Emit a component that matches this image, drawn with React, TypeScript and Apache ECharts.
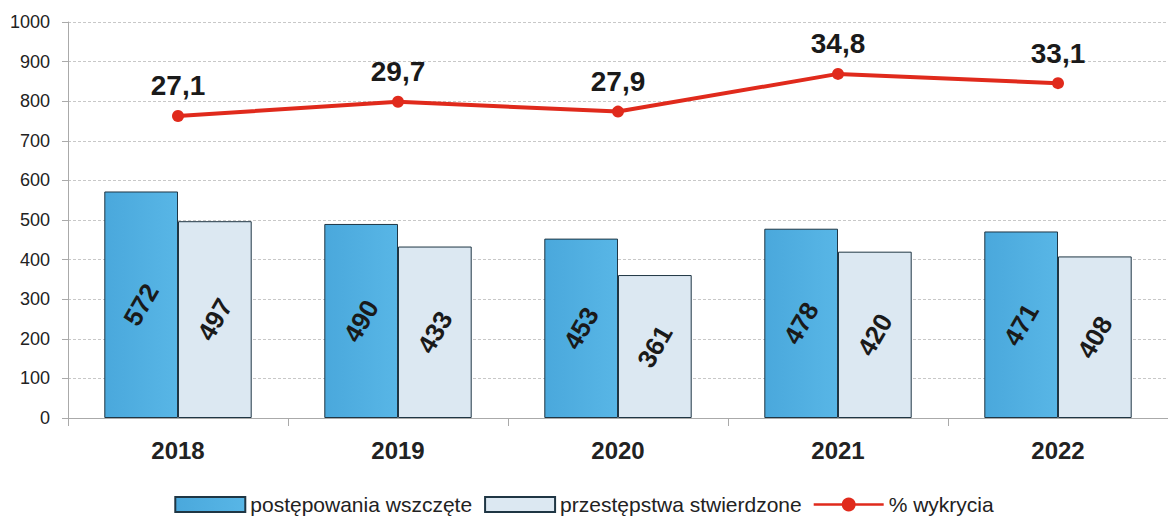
import React, { useEffect, useRef } from "react";
import * as echarts from "echarts";

const years = ["2018", "2019", "2020", "2021", "2022"];
const wszczete = [572, 490, 453, 478, 471];
const stwierdzone = [497, 433, 361, 420, 408];
const wykrycie = [27.1, 29.7, 27.9, 34.8, 33.1];
const yTicks = [0, 100, 200, 300, 400, 500, 600, 700, 800, 900, 1000];

const fmt = (v: number) => String(v).replace(".", ",");

export default function App() {
  const ref = useRef<HTMLDivElement>(null);
  useEffect(() => {
    const chart = echarts.init(ref.current!, null, { renderer: "svg" });
    const barLabel = {
      show: true,
      position: "inside",
      rotate: 60,
      fontSize: 26,
      fontWeight: "bold",
      color: "#1a1a1a",
      fontFamily: "Liberation Sans",
    };
    chart.setOption({
      animation: false,
      textStyle: { fontFamily: "Liberation Sans" },
      grid: { left: 68, right: 0, top: 22, bottom: 102 },
      legend: {
        bottom: 0,
        left: "center",
        itemGap: 12,
        itemWidth: 70,
        itemHeight: 15,
        textStyle: { fontSize: 21, color: "#222", fontFamily: "Liberation Sans" },
        data: [
          { name: "postępowania wszczęte", icon: "rect" },
          { name: "przestępstwa stwierdzone", icon: "rect" },
          { name: "% wykrycia", icon: "path://M0,6 L60,6 L60,8 L0,8 Z M30,1 A6,6 0 1 1 29.99,1 Z" },
        ],
      },
      xAxis: {
        type: "category",
        data: years,
        axisLine: { lineStyle: { color: "#aaa" } },
        axisTick: { show: true, length: 8, lineStyle: { color: "#aaa" } },
        axisLabel: { fontSize: 24, fontWeight: "bold", color: "#222", margin: 20 },
      },
      yAxis: [
        {
          type: "value",
          min: 0,
          max: 1000,
          interval: 100,
          axisLine: { show: true, lineStyle: { color: "#aaa" } },
          axisTick: { show: true, length: 6, lineStyle: { color: "#aaa" } },
          axisLabel: {
            fontSize: 18,
            color: "#222",
            margin: 18,
            formatter: (v: number) => (yTicks.includes(v) ? String(v) : ""),
          },
          splitLine: { lineStyle: { color: "#c8c8c8", type: [3, 2] } },
        },
        {
          type: "value",
          min: -28.2,
          max: 44.3,
          show: false,
          splitLine: { show: false },
        },
      ],
      series: [
        {
          name: "postępowania wszczęte",
          type: "bar",
          data: wszczete,
          barGap: "0%",
          barCategoryGap: "33%",
          itemStyle: {
            color: new echarts.graphic.LinearGradient(0, 0, 1, 0, [
              { offset: 0, color: "#4aa8dc" },
              { offset: 1, color: "#58b6e6" },
            ]),
            borderColor: "#1f3644",
            borderWidth: 1,
          },
          label: barLabel,
        },
        {
          name: "przestępstwa stwierdzone",
          type: "bar",
          data: stwierdzone,
          itemStyle: {
            color: "#dce8f2",
            borderColor: "#1f3644",
            borderWidth: 1,
          },
          label: barLabel,
        },
        {
          name: "% wykrycia",
          type: "line",
          yAxisIndex: 1,
          data: wykrycie,
          symbol: "circle",
          symbolSize: 12,
          itemStyle: { color: "#e02a1c" },
          lineStyle: { color: "#e02a1c", width: 4 },
          label: {
            show: true,
            position: "top",
            distance: 10,
            fontSize: 28,
            fontWeight: "bold",
            color: "#1a1a1a",
            formatter: (p: any) => fmt(p.value),
          },
        },
      ],
    });
    return () => chart.dispose();
  }, []);
  return <div ref={ref} style={{ width: 1168, height: 520, position: "absolute", left: 0, top: 0, background: "#fff" }} />;
}
